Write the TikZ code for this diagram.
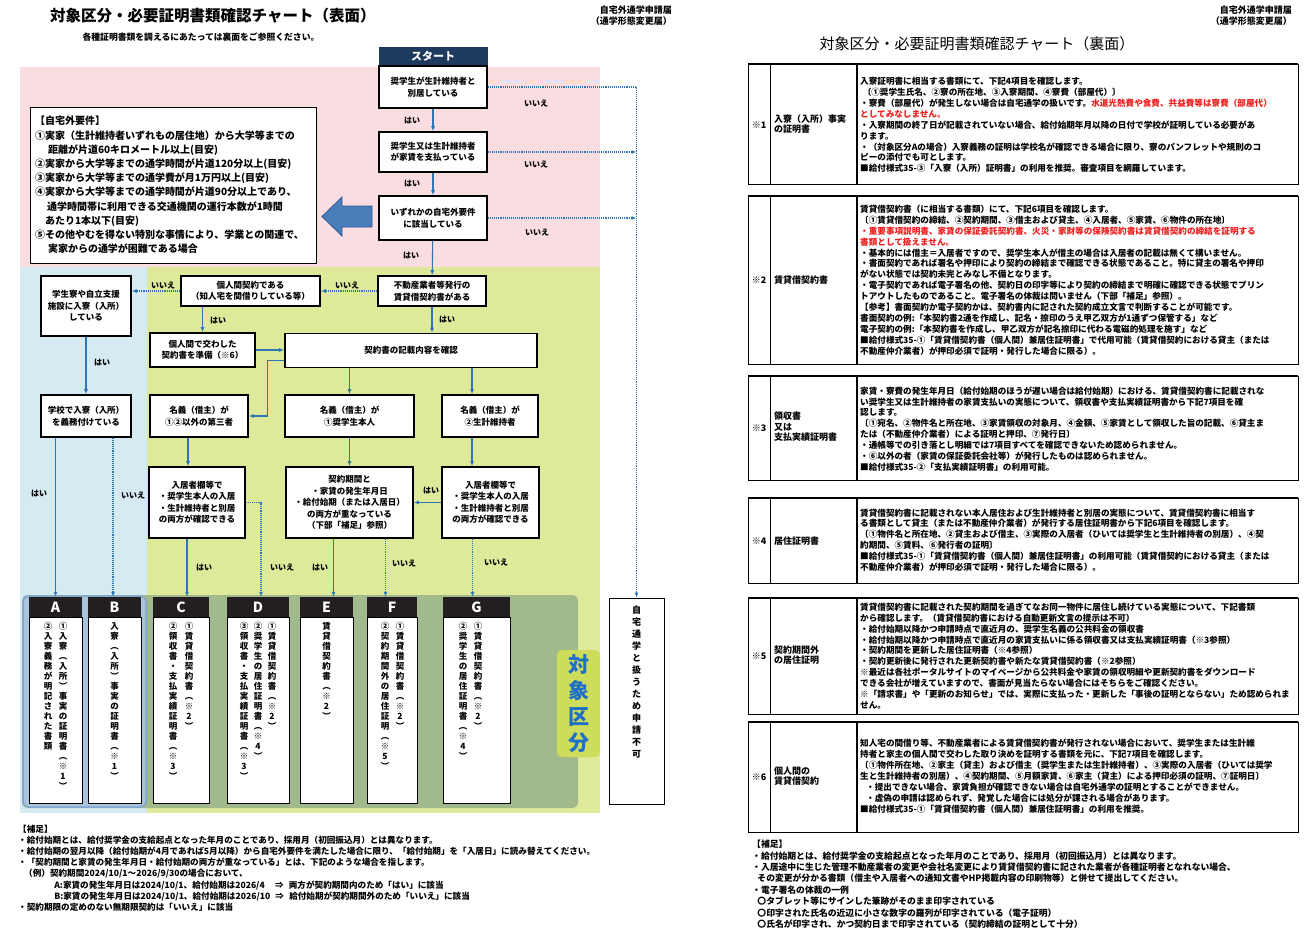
\documentclass[tikz,border=0pt]{standalone}
\usepackage{fontspec}
\setmainfont{Noto Sans CJK JP}
\usetikzlibrary{arrows.meta, positioning, calc}

\definecolor{pinkbg}{HTML}{FADDE0}
\definecolor{bluebg}{HTML}{D5EAF1}
\definecolor{greenbg}{HTML}{DEE99A}
\definecolor{panelgreen}{HTML}{A2B98C}
\definecolor{panelblue}{HTML}{A9C5DE}
\definecolor{panelbord}{HTML}{7EA6D0}
\definecolor{lineblue}{HTML}{2E75B6}
\definecolor{startnavy}{HTML}{1F3A5F}
\definecolor{headblack}{HTML}{231F20}
\definecolor{badgefill}{HTML}{CDDC5B}
\definecolor{badgeblue}{HTML}{1E6FC8}
\definecolor{arrowfill}{HTML}{4A7EBB}
\definecolor{arrowedge}{HTML}{2F5597}
\definecolor{notered}{HTML}{F01E1E}

% vertical (tategaki) stack of characters
\makeatletter
\newcommand\tate[1]{\vtop{\tate@loop#1\tate@end}}
\def\tate@end{\tate@end}
\def\tate@loop#1{\ifx#1\tate@end\else\hbox to 1.1em{\hss#1\hss}\expandafter\tate@loop\fi}
\makeatother

\begin{document}
\begin{tikzpicture}[x=1pt, y=-1pt,
    qbox/.style={draw, line width=1.6pt, fill=white, align=center, inner sep=1pt, font=\bfseries\fontsize{8.5}{11.5}\selectfont},
    answer/.style={inner sep=0pt, font=\bfseries\fontsize{8}{9}\selectfont},
    yesline/.style={->, >={Latex[length=5pt,width=4pt]}, draw=lineblue, line width=1.1pt},
    noline/.style={yesline, densely dotted},
    colhead/.style={fill=headblack, text=white, minimum height=20pt, inner sep=0pt, font=\bfseries\fontsize{14}{14}\selectfont},
    colbody/.style={draw, line width=0.8pt, fill=white, minimum height=186pt, inner sep=0pt},
    coltext/.style={anchor=north, inner sep=0pt, font=\bfseries\fontsize{8.5}{10}\selectfont},
    notetext/.style={anchor=north west, align=left, inner sep=0pt, font=\bfseries\fontsize{8.6}{11.1}\selectfont},
    rowtext/.style={anchor=west, align=left, inner sep=0pt, font=\bfseries\fontsize{8.6}{10.9}\selectfont},
    rowhead/.style={anchor=west, align=left, inner sep=0pt, font=\bfseries\fontsize{9}{10.5}\selectfont},
    rowline/.style={line width=0.8pt},
    rowtop/.style={line width=1.8pt}]

    \useasboundingbox (0,0) rectangle (1312,937);
    \fill[white] (0,0) rectangle (1312,937);

    % ---------------- front side ----------------
    % Titles
    \node[anchor=west, inner sep=0pt, font=\bfseries\fontsize{15.5}{16}\selectfont] (title1) at (50,16) {対象区分・必要証明書類確認チャート（表面）};
    \node[inner sep=0pt, font=\bfseries\fontsize{8.8}{10}\selectfont] (sub1) at (201,37) {各種証明書類を調えるにあたっては裏面をご参照ください。};
    \node[anchor=north east, align=right, inner sep=0pt, font=\bfseries\fontsize{9}{10.5}\selectfont] (form1) at (672,6) {自宅外通学申請届\\（通学形態変更届）};

    % Background areas
    \fill[pinkbg] (20,67) rectangle (600,267);
    \fill[bluebg] (20,267) rectangle (147,813);
    \fill[greenbg] (147,267) rectangle (600,813);

    % Start
    \node[fill=startnavy, draw=startnavy, text=white, minimum width=108pt, minimum height=19pt, inner sep=0pt, font=\bfseries\fontsize{11}{12}\selectfont] (start) at (433,56.5) {スタート};
    \node[qbox, minimum width=108pt, minimum height=42pt] (s1) at (433,87) {奨学生が生計維持者と\\別居している};
    \node[qbox, minimum width=108pt, minimum height=40pt] (s2) at (433,152) {奨学生又は生計維持者\\が家賃を支払っている};
    \node[qbox, minimum width=108pt, minimum height=44pt] (s3) at (433,218) {いずれかの自宅外要件\\に該当している};

    % Requirements box
    \node[draw, line width=0.9pt, fill=white, minimum width=286pt, minimum height=156pt, text width=276pt, align=left, inner sep=5pt, font=\bfseries\fontsize{10}{14.2}\selectfont] (req) at (173,185) {【自宅外要件】\\
①実家（生計維持者いずれもの居住地）から大学等までの\\
\hspace*{1.3em}距離が片道60キロメートル以上(目安)\\
②実家から大学等までの通学時間が片道120分以上(目安)\\
③実家から大学等までの通学費が月1万円以上(目安)\\
④実家から大学等までの通学時間が片道90分以上であり、\\
\hspace*{1.2em}通学時間帯に利用できる交通機関の運行本数が1時間\\
\hspace*{1em}あたり1本以下(目安)\\
⑤その他やむを得ない特別な事情により、学業との関連で、\\
\hspace*{1.3em}実家からの通学が困難である場合};

    % Big arrow
    \draw[fill=arrowfill, draw=arrowedge, line width=0.8pt] (372,206) -- (342,206) -- (342,197) -- (322,216.5) -- (342,236) -- (342,227) -- (372,227) -- cycle;

    % Lower questions
    \node[qbox, minimum width=90pt, minimum height=60pt] (ryo) at (86,306) {学生寮や自立支援\\施設に入寮（入所）\\している};
    \node[qbox, minimum width=90pt, minimum height=42pt] (gakko) at (86,416) {学校で入寮（入所）\\を義務付けている};
    \node[qbox, minimum width=139pt, minimum height=30pt] (kojin) at (250.5,291) {個人間契約である\\（知人宅を間借りしている等）};
    \node[qbox, minimum width=108pt, minimum height=30pt] (fudosan) at (432,291) {不動産業者等発行の\\賃貸借契約書がある};
    \node[qbox, minimum width=105pt, minimum height=34pt] (kojin2) at (202.5,350) {個人間で交わした\\契約書を準備（※6）};
    \node[qbox, minimum width=252pt, minimum height=34pt] (kisai) at (411,350.5) {契約書の記載内容を確認};
    \node[qbox, minimum width=98pt, minimum height=42pt] (meigi3) at (199,416) {名義（借主）が\\①②以外の第三者};
    \node[qbox, minimum width=129pt, minimum height=42pt] (meigi1) at (349.5,416) {名義（借主）が\\①奨学生本人};
    \node[qbox, minimum width=96pt, minimum height=42pt] (meigi2) at (490,416) {名義（借主）が\\②生計維持者};
    \node[qbox, minimum width=96pt, minimum height=71pt] (nyukyo1) at (197,502.5) {入居者欄等で\\・奨学生本人の入居\\・生計維持者と別居\\の両方が確認できる};
    \node[qbox, minimum width=127pt, minimum height=71pt] (kikan) at (349.5,502.5) {契約期間と\\・家賃の発生年月日\\・給付始期（または入居日）\\の両方が重なっている\\（下部「補足」参照）};
    \node[qbox, minimum width=97pt, minimum height=71pt] (nyukyo2) at (490.5,502.5) {入居者欄等で\\・奨学生本人の入居\\・生計維持者と別居\\の両方が確認できる};

    % Result panels
    \draw[fill=panelgreen, draw=none, rounded corners=6pt] (22,595) rectangle (578,808);
    \draw[fill=panelblue, draw=panelbord, line width=1.5pt, rounded corners=6pt] (23,596) rectangle (146,807);

    \node[colbody, minimum width=53pt] (Abody) at (55.5,710) {};
    \node[colbody, minimum width=53pt] (Bbody) at (114.5,710) {};
    \node[colbody, minimum width=56pt] (Cbody) at (181,710) {};
    \node[colbody, minimum width=62pt] (Dbody) at (258,710) {};
    \node[colbody, minimum width=53pt] (Ebody) at (326.5,710) {};
    \node[colbody, minimum width=50pt] (Fbody) at (392,710) {};
    \node[colbody, minimum width=67pt] (Gbody) at (476.5,710) {};

    \node[colhead, minimum width=53pt] (Ahead) at (55.5,607) {A};
    \node[colhead, minimum width=53pt] (Bhead) at (114.5,607) {B};
    \node[colhead, minimum width=56pt] (Chead) at (181,607) {C};
    \node[colhead, minimum width=62pt] (Dhead) at (258,607) {D};
    \node[colhead, minimum width=53pt] (Ehead) at (326.5,607) {E};
    \node[colhead, minimum width=50pt] (Fhead) at (392,607) {F};
    \node[colhead, minimum width=67pt] (Ghead) at (476.5,607) {G};

    % Documents (vertical text)
    \node[coltext] (A1) at (63,622) {\tate{①入寮︵入所︶事実の証明書︵※1︶}};
    \node[coltext] (A2) at (48,622) {\tate{②入寮義務が明記された書類}};
    \node[coltext] (B1) at (114.5,622) {\tate{入寮︵入所︶事実の証明書︵※1︶}};
    \node[coltext] (C1) at (189,622) {\tate{①賃貸借契約書︵※2︶}};
    \node[coltext] (C2) at (173,622) {\tate{②領収書・支払実績証明書︵※3︶}};
    \node[coltext] (D1) at (272,622) {\tate{①賃貸借契約書︵※2︶}};
    \node[coltext] (D2) at (258,622) {\tate{②奨学生の居住証明書︵※4︶}};
    \node[coltext] (D3) at (244,622) {\tate{③領収書・支払実績証明書︵※3︶}};
    \node[coltext] (E1) at (326.5,622) {\tate{賃貸借契約書︵※2︶}};
    \node[coltext] (F1) at (400,622) {\tate{①賃貸借契約書︵※2︶}};
    \node[coltext] (F2) at (385,622) {\tate{②契約期間外の居住証明︵※5︶}};
    \node[coltext] (G1) at (478,622) {\tate{①賃貸借契約書︵※2︶}};
    \node[coltext] (G2) at (463,622) {\tate{②奨学生の居住証明書︵※4︶}};

    % Category badge
    \node[fill=badgefill, rounded corners=5pt, minimum width=43pt, minimum height=107pt] (badge) at (578.5,703.5) {};
    \node[text=badgeblue, inner sep=0pt, font=\bfseries\fontsize{21}{26}\selectfont] (badgetext) at (badge.center) {\tate{対象区分}};

    % Not eligible
    \node[draw, line width=0.8pt, fill=white, minimum width=55pt, minimum height=206pt] (ng) at (636.5,701) {};
    \node[coltext, font=\bfseries\fontsize{9}{12}\selectfont] (ngtext) at (636.5,606) {\tate{自宅通学と扱うため申請不可}};

    % Connections
    \draw[yesline] (s1) -- (s2);
    \draw[yesline] (s2) -- (s3);
    \draw[yesline] (s3) -- (fudosan);
    \draw[noline] (s1.east) -- (s1.east -| ng.north) -- (ng.north);
    \draw[noline] (s2.east) -- (s2.east -| ng.north);
    \draw[noline] (s3.east) -- (s3.east -| ng.north);
    \draw[noline] (fudosan.west) -- (kojin.east);
    \draw[noline] (kojin.west) -- (kojin.west -| ryo.east);
    \draw[yesline] (kojin2.north |- kojin.south) -- (kojin2.north);
    \draw[yesline] (fudosan.south) -- (fudosan.south |- kisai.north);
    \draw[yesline] (kojin2.east) -- (kisai.west |- kojin2.east);
    \draw[yesline] ([yshift=-10pt]kisai.west) -- ++(-17,0) |- (meigi3.east);
    \draw[yesline] (meigi1.north |- kisai.south) -- (meigi1.north);
    \draw[yesline] ([xshift=-18pt]meigi2.north |- kisai.south) -- ([xshift=-18pt]meigi2.north);
    \draw[yesline] (ryo) -- (gakko);
    \draw[yesline] ([xshift=-11pt]meigi3.south) -- ([xshift=-11pt]meigi3.south |- nyukyo1.north);
    \draw[yesline] (meigi1.south) -- (meigi1.south |- kikan.north);
    \draw[yesline] ([xshift=-18pt]meigi2.south) -- ([xshift=-18pt]meigi2.south |- nyukyo2.north);
    \draw[yesline] (nyukyo2.west) -- (kikan.east);
    \draw[yesline] (Ahead.north |- gakko.south) -- (Ahead.north);
    \draw[noline] ([xshift=-1.5pt]Bhead.north |- gakko.south) -- ([xshift=-1.5pt]Bhead.north);
    \draw[yesline] ([xshift=-10pt]nyukyo1.south) -- ([xshift=-10pt]nyukyo1.south |- Chead.north);
    \draw[noline] (nyukyo1.east) -| ([xshift=3pt]Dhead.north);
    \draw[yesline] ([xshift=-16pt]kikan.south) -- ([xshift=-16pt]kikan.south |- Ehead.north);
    \draw[noline] ([xshift=36pt]kikan.south) -- ([xshift=36pt]kikan.south |- Fhead.north);
    \draw[noline] ([xshift=-18pt]nyukyo2.south) -- ([xshift=-18pt]nyukyo2.south |- Ghead.north);

    % Answers
    \node[answer] (a1) at (412,121) {はい};
    \node[answer] (a2) at (412,184) {はい};
    \node[answer] (a3) at (411,256) {はい};
    \node[answer] (a4) at (536,103) {いいえ};
    \node[answer] (a5) at (536,164) {いいえ};
    \node[answer] (a6) at (537,232) {いいえ};
    \node[answer] (a7) at (163,285) {いいえ};
    \node[answer] (a8) at (347,285) {いいえ};
    \node[answer] (a9) at (218,321) {はい};
    \node[answer] (a10) at (447,320) {はい};
    \node[answer] (a11) at (102,363) {はい};
    \node[answer] (a12) at (39,494) {はい};
    \node[answer] (a13) at (133,495) {いいえ};
    \node[answer] (a14) at (204,568) {はい};
    \node[answer] (a15) at (282,567) {いいえ};
    \node[answer] (a16) at (320,568) {はい};
    \node[answer] (a17) at (404,563) {いいえ};
    \node[answer] (a18) at (496,562) {いいえ};
    \node[answer] (a19) at (431,491) {はい};

    % Notes (front)
    \node[notetext] (note1) at (18,825) {【補足】\\
・給付始期とは、給付奨学金の支給起点となった年月のことであり、採用月（初回振込月）とは異なります。\\
・給付始期の翌月以降（給付始期が4月であれば5月以降）から自宅外要件を満たした場合に限り、「給付始期」を「入居日」に読み替えてください。\\
・「契約期間と家賃の発生年月日・給付始期の両方が重なっている」とは、下記のような場合を指します。\\
\hspace*{0.7em}（例）契約期間2024/10/1～2026/9/30の場合において、\\
\hspace*{4.2em}A:家賃の発生年月日は2024/10/1、給付始期は2026/4\hspace*{1.2em}⇒\hspace*{0.6em}両方が契約期間内のため「はい」に該当\\
\hspace*{4.2em}B:家賃の発生年月日は2024/10/1、給付始期は2026/10\hspace*{0.6em}⇒\hspace*{0.6em}給付始期が契約期間外のため「いいえ」に該当\\
・契約期限の定めのない無期限契約は「いいえ」に該当};

    % ---------------- back side ----------------
    \node[anchor=north east, align=right, inner sep=0pt, font=\bfseries\fontsize{9}{10.5}\selectfont] (form2) at (1292,6) {自宅外通学申請届\\（通学形態変更届）};
    \node[inner sep=0pt, font=\fontsize{15}{16}\selectfont] (title2) at (977,44) {対象区分・必要証明書類確認チャート（裏面）};

    % Row 1
    \draw[rowline] (748,64) rectangle (1298,184);
    \draw[rowtop] (748,64) -- (1298,64);
    \draw[rowline] (770,64) -- (770,184);
    \draw[rowtop] (857,64) -- (857,184);
    \node[rowhead, anchor=center] (n1) at (759,125) {※1};
    \node[rowhead] (t1) at (774,124) {入寮（入所）事実\\の証明書};
    \node[rowtext] (c1) at (860,125) {入寮証明書に相当する書類にて、下記4項目を確認します。\\
\hspace*{0.3em}〔①奨学生氏名、②寮の所在地、③入寮期間、④寮費（部屋代）〕\\
・寮費（部屋代）が発生しない場合は自宅通学の扱いです。\textcolor{notered}{水道光熱費や食費、共益費等は寮費（部屋代）}\\
\textcolor{notered}{としてみなしません。}\\
・入寮期間の終了日が記載されていない場合、給付始期年月以降の日付で学校が証明している必要があ\\
ります。\\
・（対象区分Aの場合）入寮義務の証明は学校名が確認できる場合に限り、寮のパンフレットや規則のコ\\
ピーの添付でも可とします。\\
■給付様式35-③「入寮（入所）証明書」の利用を推奨。審査項目を網羅しています。};

    % Row 2
    \draw[rowline] (748,196) rectangle (1298,364);
    \draw[rowtop] (748,196) -- (1298,196);
    \draw[rowline] (770,196) -- (770,364);
    \draw[rowtop] (857,196) -- (857,364);
    \node[rowhead, anchor=center] (n2) at (759,280) {※2};
    \node[rowhead] (t2) at (774,280) {賃貸借契約書};
    \node[rowtext] (c2) at (860,280) {賃貸借契約書（に相当する書類）にて、下記6項目を確認します。\\
〔①賃貸借契約の締結、②契約期間、③借主および貸主、④入居者、⑤家賃、⑥物件の所在地〕\\
\textcolor{notered}{・重要事項説明書、家賃の保証委託契約書、火災・家財等の保険契約書は賃貸借契約の締結を証明する}\\
\textcolor{notered}{書類として扱えません。}\\
・基本的には借主＝入居者ですので、奨学生本人が借主の場合は入居者の記載は無くて構いません。\\
・書面契約であれば署名や押印により契約の締結まで確認できる状態であること。特に貸主の署名や押印\\
がない状態では契約未完とみなし不備となります。\\
・電子契約であれば電子署名の他、契約日の印字等により契約の締結まで明確に確認できる状態でプリン\\
トアウトしたものであること。電子署名の体裁は問いません（下部「補足」参照）。\\
【参考】書面契約か電子契約かは、契約書内に記された契約成立文言で判断することが可能です。\\
書面契約の例:「本契約書2通を作成し、記名・捺印のうえ甲乙双方が1通ずつ保管する」など\\
電子契約の例:「本契約書を作成し、甲乙双方が記名捺印に代わる電磁的処理を施す」など\\
■給付様式35-①「賃貸借契約書（個人間）兼居住証明書」で代用可能（賃貸借契約における貸主（または\\
不動産仲介業者）が押印必須で証明・発行した場合に限る）。};

    % Row 3
    \draw[rowline] (748,376) rectangle (1298,480);
    \draw[rowtop] (748,376) -- (1298,376);
    \draw[rowline] (770,376) -- (770,480);
    \draw[rowtop] (857,376) -- (857,480);
    \node[rowhead, anchor=center] (n3) at (759,428) {※3};
    \node[rowhead] (t3) at (774,427) {領収書\\又は\\支払実績証明書};
    \node[rowtext] (c3) at (860,429) {家賃・寮費の発生年月日（給付始期のほうが遅い場合は給付始期）における、賃貸借契約書に記載されな\\
い奨学生又は生計維持者の家賃支払いの実態について、領収書や支払実績証明書から下記7項目を確\\
認します。\\
〔①宛名、②物件名と所在地、③家賃領収の対象月、④金額、⑤家賃として領収した旨の記載、⑥貸主ま\\
たは（不動産仲介業者）による証明と押印、⑦発行日〕\\
・通帳等での引き落とし明細では7項目すべてを確認できないため認められません。\\
・⑥以外の者（家賃の保証委託会社等）が発行したものは認められません。\\
■給付様式35-②「支払実績証明書」の利用可能。};

    % Row 4
    \draw[rowline] (748,498) rectangle (1298,583);
    \draw[rowtop] (748,498) -- (1298,498);
    \draw[rowline] (770,498) -- (770,583);
    \draw[rowtop] (857,498) -- (857,583);
    \node[rowhead, anchor=center] (n4) at (759,541) {※4};
    \node[rowhead] (t4) at (774,541) {居住証明書};
    \node[rowtext] (c4) at (860,540) {賃貸借契約書に記載されない本人居住および生計維持者と別居の実態について、賃貸借契約書に相当す\\
る書類として貸主（または不動産仲介業者）が発行する居住証明書から下記6項目を確認します。\\
〔①物件名と所在地、②貸主および借主、③実際の入居者（ひいては奨学生と生計維持者の別居）、④契\\
約期間、⑤賃料、⑥発行者の証明〕\\
■給付様式35-①「賃貸借契約書（個人間）兼居住証明書」の利用可能（賃貸借契約における貸主（または\\
不動産仲介業者）が押印必須で証明・発行した場合に限る）。};

    % Row 5
    \draw[rowline] (748,598) rectangle (1298,714);
    \draw[rowtop] (748,598) -- (1298,598);
    \draw[rowline] (770,598) -- (770,714);
    \draw[rowtop] (857,598) -- (857,714);
    \node[rowhead, anchor=center] (n5) at (759,656) {※5};
    \node[rowhead] (t5) at (774,655) {契約期間外\\の居住証明};
    \node[rowtext] (c5) at (860,656) {賃貸借契約書に記載された契約期間を過ぎてなお同一物件に居住し続けている実態について、下記書類\\
から確認します。（賃貸借契約書における\underline{自動更新文言の提示は不可}）\\
・給付始期以降かつ申請時点で直近月の、奨学生名義の公共料金の領収書\\
・給付始期以降かつ申請時点で直近月の家賃支払いに係る領収書又は支払実績証明書（※3参照）\\
・契約期間を更新した居住証明書（※4参照）\\
・契約更新後に発行された更新契約書や新たな賃貸借契約書（※2参照）\\
※最近は各社ポータルサイトのマイページから公共料金や家賃の領収明細や更新契約書をダウンロード\\
できる会社が増えていますので、書面が見当たらない場合にはそちらをご確認ください。\\
※「請求書」や「更新のお知らせ」では、実際に支払った・更新した「事後の証明とならない」ため認められま\\
せん。};

    % Row 6
    \draw[rowline] (748,722) rectangle (1298,832);
    \draw[rowtop] (748,722) -- (1298,722);
    \draw[rowline] (770,722) -- (770,832);
    \draw[rowtop] (857,722) -- (857,832);
    \node[rowhead, anchor=center] (n6) at (759,777) {※6};
    \node[rowhead] (t6) at (774,776) {個人間の\\賃貸借契約};
    \node[rowtext] (c6) at (860,776) {知人宅の間借り等、不動産業者による賃貸借契約書が発行されない場合において、奨学生または生計維\\
持者と家主の個人間で交わした取り決めを証明する書類を元に、下記7項目を確認します。\\
〔①物件所在地、②家主（貸主）および借主（奨学生または生計維持者）、③実際の入居者（ひいては奨学\\
生と生計維持者の別居）、④契約期間、⑤月額家賃、⑥家主（貸主）による押印必須の証明、⑦証明日〕\\
\hspace*{0.7em}・提出できない場合、家賃負担が確認できない場合は自宅外通学の証明とすることができません。\\
\hspace*{0.7em}・虚偽の申請は認められず、発覚した場合には処分が課される場合があります。\\
■給付様式35-①「賃貸借契約書（個人間）兼居住証明書」の利用を推奨。};

    % Notes (back)
    \node[notetext, font=\bfseries\fontsize{8.8}{11.4}\selectfont] (note2) at (752,840) {【補足】\\
・給付始期とは、給付奨学金の支給起点となった年月のことであり、採用月（初回振込月）とは異なります。\\
・入居途中に生じた管理不動産業者の変更や会社名変更により賃貸借契約書に記された業者が各種証明者となれない場合、\\
\hspace*{0.6em}その変更が分かる書類（借主や入居者への通知文書やHP掲載内容の印刷物等）と併せて提出してください。\\
・電子署名の体裁の一例\\
\hspace*{0.6em}〇タブレット等にサインした筆跡がそのまま印字されている\\
\hspace*{0.6em}〇印字された氏名の近辺に小さな数字の羅列が印字されている（電子証明）\\
\hspace*{0.6em}〇氏名が印字され、かつ契約日まで印字されている（契約締結の証明として十分）};

\end{tikzpicture}
\end{document}
